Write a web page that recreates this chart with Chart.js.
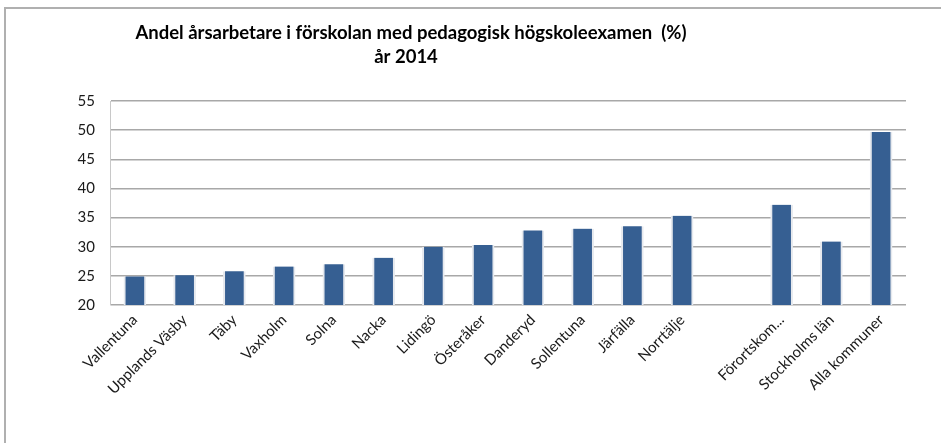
<!DOCTYPE html>
<html>
<head>
<meta charset="utf-8">
<script src="https://cdn.jsdelivr.net/npm/chart.js@4"></script>
<style>
html,body{margin:0;padding:0;background:#fff;}
#wrap{position:relative;width:941px;height:443px;overflow:hidden;}
#frame{position:absolute;left:4px;top:7px;width:960px;height:500px;border-top:2px solid #b0b0b0;border-left:2px solid #b0b0b0;}
canvas{position:absolute;left:0;top:0;}
</style>
</head>
<body>
<div id="wrap">
<div id="frame"></div>
<canvas id="c" width="941" height="443"></canvas>
</div>
<script>
const categories = ["Vallentuna","Upplands Väsby","Täby","Vaxholm","Solna","Nacka","Lidingö","Österåker","Danderyd","Sollentuna","Järfälla","Norrtälje","","Förortskom...","Stockholms län","Alla kommuner"];
const values = [24.9, 25.1, 25.8, 26.6, 27.0, 28.1, 30.0, 30.3, 32.8, 33.1, 33.5, 35.3, null, 37.2, 30.9, 49.7];
const titleLines = ["Andel årsarbetare i förskolan med pedagogisk högskoleexamen  (%)", "år 2014"];
const yMin = 20, yMax = 55, yStep = 5;

const titlePlugin = {
  id: 'customTitle',
  afterDraw(chart) {
    const ctx = chart.ctx;
    ctx.save();
    ctx.fillStyle = '#000';
    ctx.font = 'bold 18.5px Lato, "Open Sans", sans-serif';
    ctx.textAlign = 'center';
    ctx.textBaseline = 'alphabetic';
    ctx.fillText(titleLines[0], 411, 39, 553);
    ctx.fillText(titleLines[1], 406, 63);
    ctx.restore();
  }
};

new Chart(document.getElementById('c'), {
  type: 'bar',
  data: {
    labels: categories,
    datasets: [{
      data: values,
      backgroundColor: '#365f92',
      borderColor: '#e6e9ee',
      borderWidth: {left: 2, right: 2, top: 0, bottom: 0},
      borderSkipped: false,
      barThickness: 22
    }]
  },
  options: {
    responsive: false,
    animation: false,
    events: [],
    layout: {padding: {left: 0, right: 35, top: 101, bottom: 0}},
    plugins: {legend: {display: false}, tooltip: {enabled: false}, title: {display: false}},
    scales: {
      x: {
        grid: {display: false, drawTicks: false},
        border: {display: false},
        ticks: {
          autoSkip: false,
          maxRotation: 45,
          minRotation: 45,
          padding: 6,
          color: '#1a1a1a',
          font: {family: 'Lato, "Open Sans", sans-serif', size: 15}
        },
        afterFit(axis) { axis.height = 138; }
      },
      y: {
        min: yMin,
        max: yMax,
        grid: {color: '#a8a8a8', lineWidth: 1.5, drawTicks: false},
        border: {display: true, color: '#c8c8c8', width: 1},
        ticks: {
          stepSize: yStep,
          padding: 15,
          color: '#1a1a1a',
          font: {family: 'Lato, "Open Sans", sans-serif', size: 15}
        },
        afterFit(axis) { axis.width = 110; }
      }
    }
  },
  plugins: [titlePlugin]
});
</script>
</body>
</html>
